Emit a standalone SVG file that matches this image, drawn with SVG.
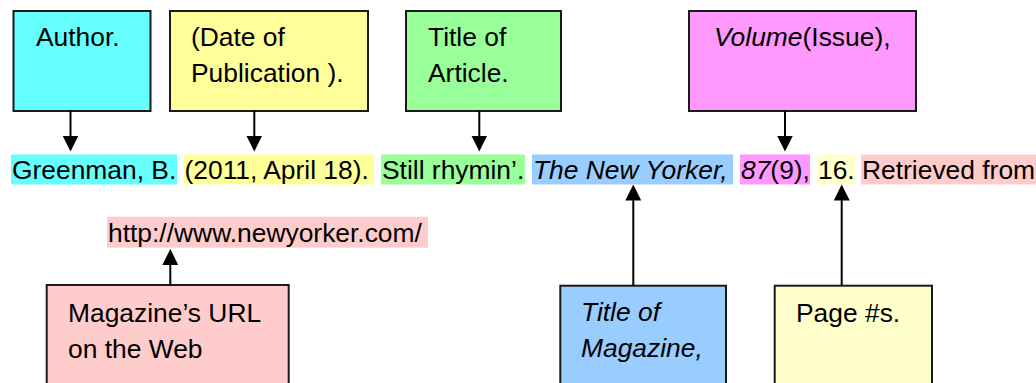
<svg xmlns="http://www.w3.org/2000/svg" width="1036" height="383" viewBox="0 0 1036 383">
<style>
  text { font-family: "Liberation Sans", Arial, sans-serif; font-size: 26.4px; fill: #000; }
  .it { font-style: italic; }
  .box { stroke: #1a1a1a; stroke-width: 2; }
  .conn { stroke: #000; stroke-width: 2; fill: none; marker-end: url(#arrow); }
  .cyan { fill: #66FFFF; }
  .yellow { fill: #FFFF99; }
  .green { fill: #99FF99; }
  .magenta { fill: #FF99FF; }
  .blue { fill: #99CCFF; }
  .paleyellow { fill: #FFFFCC; }
  .pink { fill: #FFCCCC; }
</style>
<defs>
  <marker id="arrow" viewBox="0 0 16 16" refX="2" refY="8" markerWidth="16" markerHeight="16" markerUnits="userSpaceOnUse" orient="auto">
    <path d="M0,0 L16,8 L0,16 z" fill="#000"/>
  </marker>
</defs>
<rect width="1036" height="383" fill="#fff"/>

<g id="node-author">
  <rect class="box cyan" x="13.5" y="11" width="137" height="100"/>
  <text x="36" y="46">Author.</text>
</g>
<g id="node-date">
  <rect class="box yellow" x="170" y="11" width="198" height="100"/>
  <text x="191" y="46">(Date of</text>
  <text x="191" y="82">Publication ).</text>
</g>
<g id="node-title-article">
  <rect class="box green" x="406" y="11" width="155" height="100"/>
  <text x="428" y="46">Title of</text>
  <text x="428" y="82">Article.</text>
</g>
<g id="node-volume">
  <rect class="box magenta" x="689" y="11" width="227" height="100"/>
  <text x="714" y="46"><tspan class="it">Volume</tspan>(Issue),</text>
</g>

<g id="node-citation">
  <rect class="cyan" x="11" y="154.5" width="166" height="30"/>
  <rect class="yellow" x="184" y="154.5" width="190" height="30"/>
  <rect class="green" x="381" y="154.5" width="144" height="30"/>
  <rect class="blue" x="532" y="154.5" width="201" height="30"/>
  <rect class="magenta" x="740" y="154.5" width="70" height="30"/>
  <rect class="paleyellow" x="817" y="154.5" width="38" height="30"/>
  <rect class="pink" x="861" y="154.5" width="180" height="30"/>
  <text x="12" y="179">Greenman, B.</text>
  <text x="184.5" y="179">(2011, April 18).</text>
  <text x="382" y="179">Still rhymin’.</text>
  <text class="it" x="533" y="179">The New Yorker,</text>
  <text x="741" y="179"><tspan class="it">87</tspan>(9),</text>
  <text x="818" y="179">16.</text>
  <text x="862" y="179">Retrieved from</text>
</g>

<g id="node-url">
  <rect class="pink" x="107" y="216.7" width="321" height="31"/>
  <text x="108" y="241.5">http://www.newyorker.com/</text>
</g>

<g id="node-magazine-url">
  <rect class="box pink" x="46.7" y="285" width="242" height="110"/>
  <text x="68" y="322">Magazine’s URL</text>
  <text x="68" y="358">on the Web</text>
</g>
<g id="node-title-magazine">
  <rect class="box blue" x="560.3" y="285.7" width="165.7" height="110"/>
  <text class="it" x="581" y="321">Title of</text>
  <text class="it" x="581" y="357">Magazine,</text>
</g>
<g id="node-pages">
  <rect class="box paleyellow" x="774.7" y="285.7" width="157.3" height="110"/>
  <text x="796" y="322">Page #s.</text>
</g>

<g id="connectors">
  <line class="conn" x1="70.5" y1="111" x2="70.5" y2="137.5"/>
  <line class="conn" x1="254.3" y1="111" x2="254.3" y2="137.5"/>
  <line class="conn" x1="479.3" y1="111" x2="479.3" y2="137.5"/>
  <line class="conn" x1="785" y1="111" x2="785" y2="137.5"/>
  <line class="conn" x1="170.3" y1="285" x2="170.3" y2="263"/>
  <line class="conn" x1="633.3" y1="285.7" x2="633.3" y2="198.5"/>
  <line class="conn" x1="841.7" y1="285.7" x2="841.7" y2="198.5"/>
</g>
</svg>
